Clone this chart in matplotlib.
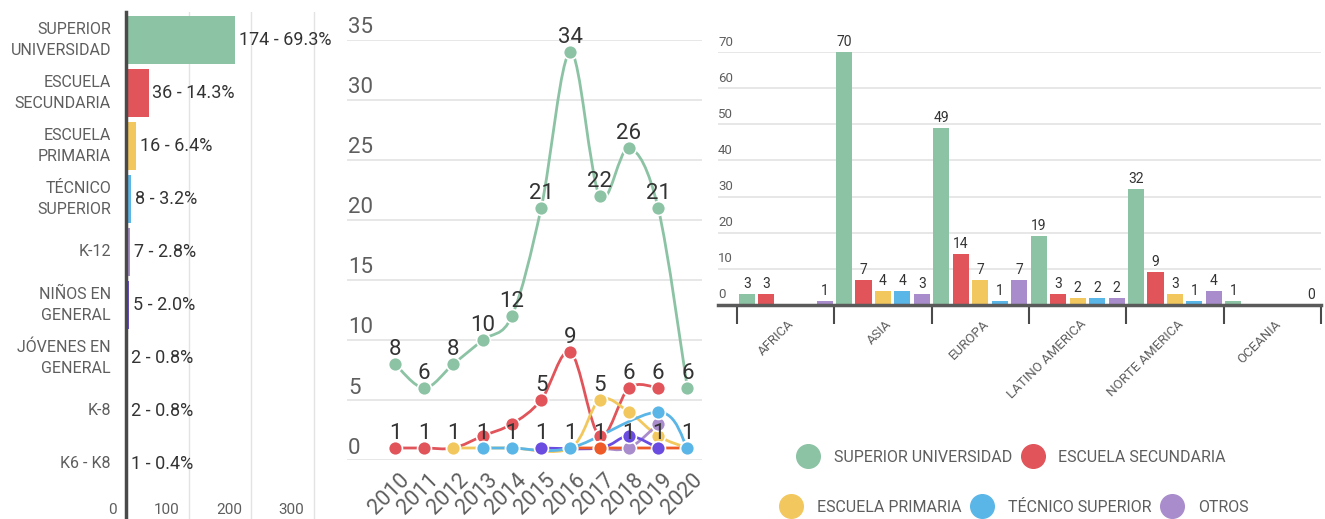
import matplotlib

matplotlib.use("Agg")
import matplotlib.pyplot as plt
import matplotlib.transforms as mtransforms
import numpy as np
from matplotlib.lines import Line2D
from matplotlib.patches import PathPatch
from matplotlib.path import Path

plt.rcParams["font.family"] = ["Roboto", "DejaVu Sans"]

# ---- left panel: publications by education level
LEVELS = ["SUPERIOR\nUNIVERSIDAD", "ESCUELA\nSECUNDARIA", "ESCUELA\nPRIMARIA",
          "TÉCNICO\nSUPERIOR", "K-12", "NIÑOS EN\nGENERAL", "JÓVENES EN\nGENERAL",
          "K-8", "K6 - K8"]
LEVEL_COUNTS = [174, 36, 16, 8, 7, 5, 2, 2, 1]
LEVEL_PCT = [69.3, 14.3, 6.4, 3.2, 2.8, 2.0, 0.8, 0.8, 0.4]
COUNT_TICKS = [0, 100, 200, 300]

# ---- middle panel: per year (None = no point that year)
YEARS = list(range(2010, 2021))
SUP_BY_YEAR = [8, 6, 8, 10, 12, 21, 34, 22, 26, 21, 6]
SEC_BY_YEAR = [1, 1, 1, 2, 3, 5, 9, 2, 6, 6, None]
PRI_BY_YEAR = [None, None, 1, 1, 1, None, 1, 5, 4, 2, 1]
K12_BY_YEAR = [None, None, None, None, None, None, None, 1, 1, 3, None]
NIN_BY_YEAR = [None, None, None, None, None, 1, None, 1, 2, 1, None]
JOV_BY_YEAR = [None, None, None, None, None, None, 1, 1, None, None, 1]
TEC_BY_YEAR = [None, None, None, 1, 1, None, 1, None, None, 4, 1]
# years whose value is printed above the dot
SUP_LABELED = YEARS
SEC_LABELED = [2010, 2011, 2012, 2015, 2016, 2018, 2019]
PRI_LABELED = [2017]
K12_LABELED = [2018]
NIN_LABELED = [2015, 2019]
JOV_LABELED = [2017]
TEC_LABELED = [2013, 2014, 2016, 2020]
YEAR_TICKS = [0, 5, 10, 15, 20, 25, 30, 35]

# ---- right panel: per region
REGIONS = ["AFRICA", "ASIA", "EUROPA", "LATINO AMERICA", "NORTE AMERICA", "OCEANIA"]
REG_SUP = [3, 70, 49, 19, 32, 1]
REG_SEC = [3, 7, 14, 3, 9, None]
REG_PRI = [None, 4, 7, 2, 3, None]
REG_TEC = [None, 4, 1, 2, 1, None]
REG_OTR = [1, 3, 7, 2, 4, 0]
REG_TICKS = [0, 10, 20, 30, 40, 50, 60, 70]
LEGEND_NAMES = ["SUPERIOR UNIVERSIDAD", "ESCUELA SECUNDARIA", "ESCUELA PRIMARIA",
                "TÉCNICO SUPERIOR", "OTROS"]

GREEN, RED, YELLOW, BLUE = "#8cc3a4", "#e0545a", "#f2c85e", "#5bb6e8"
LAVENDER, INDIGO, SALMON, ORANGE = "#a98ccb", "#6a4de0", "#e98b6e", "#ee5a28"
LEVEL_COLORS = [GREEN, RED, YELLOW, BLUE, LAVENDER, INDIGO, SALMON, SALMON, "#9a9a9a"]
GRID, TXT, SOFT = "#e3e3e3", "#333333", "#5e5e5e"

W, H = 1325, 519
fig = plt.figure(figsize=(W / 100, H / 100), dpi=100)


def px_axes(x0, y0, x1, y1):
    """Axes from a pixel box (top-left origin)."""
    return fig.add_axes([x0 / W, 1 - y1 / H, (x1 - x0) / W, (y1 - y0) / H])


def shift(dx, dy):
    return mtransforms.ScaledTranslation(dx / 100, dy / 100, fig.dpi_scale_trans)


def smooth_path(xs, ys):
    """Catmull-Rom style bezier through the data points (curved line look)."""
    pts = np.column_stack([xs, ys]).astype(float)
    n = len(pts)
    verts, codes = [pts[0]], [Path.MOVETO]
    for i in range(n - 1):
        p0, p1 = pts[max(i - 1, 0)], pts[i]
        p2, p3 = pts[i + 1], pts[min(i + 2, n - 1)]
        verts += [p1 + (p2 - p0) / 6, p2 - (p3 - p1) / 6, p2]
        codes += [Path.CURVE4] * 3
    return Path(verts, codes)


# ================= left: horizontal bars
ax = px_axes(126, 12, 342, 519)
ypos = np.arange(len(LEVELS))
ax.barh(ypos, LEVEL_COUNTS, height=0.9, color=LEVEL_COLORS, zorder=2)
ax.set_xlim(0, 216 / 0.625)
ax.set_ylim(9.04, -0.53)
ax.set_yticks([])
ax.set_xticks([])
for v in COUNT_TICKS[1:]:
    ax.axvline(v, color=GRID, lw=1, zorder=1)
for s in ["top", "right", "bottom"]:
    ax.spines[s].set_visible(False)
ax.spines["left"].set_color("#4a4a4a")
ax.spines["left"].set_linewidth(2.5)
ltrans = mtransforms.blended_transform_factory(ax.transAxes, ax.transData) + shift(-15, 0)
for y, name in zip(ypos, LEVELS):
    ax.text(0, y, name, transform=ltrans, ha="right", va="center",
            fontsize=11.5, color=SOFT, linespacing=1.45, clip_on=False)
for y, n, p in zip(ypos, LEVEL_COUNTS, LEVEL_PCT):
    ax.text(n, y, f"{n} - {p:.1f}%", transform=ax.transData + shift(4, 0), ha="left",
            va="center", fontsize=13, color=TXT, clip_on=False)
btrans = mtransforms.blended_transform_factory(ax.transData, ax.transAxes)
for v in COUNT_TICKS:
    ax.text(v, 9 / 507, str(v), transform=btrans + shift(-9, 0), ha="right", va="center",
            fontsize=11, color=SOFT)

# ================= middle: curved lines per year
ax2 = px_axes(347, 40, 702, 460)
ax2.set_xlim(2008.36, 2020.5)
ax2.set_ylim(0, 35)
for s in ax2.spines.values():
    s.set_visible(False)
ax2.set_yticks([])
ytrans = mtransforms.blended_transform_factory(ax2.transAxes, ax2.transData) + shift(0, 12)
for v in YEAR_TICKS:
    ax2.axhline(v, color=GRID, lw=1.2, zorder=0)
    ax2.text(0.003, v, str(v), transform=ytrans, ha="left", va="center", fontsize=16, color=SOFT)
ax2.set_xticks(YEARS)
ax2.set_xticklabels([str(y) for y in YEARS], rotation=45, ha="right", rotation_mode="anchor",
                    fontsize=15.5, color=SOFT)
ax2.tick_params(axis="x", length=0, pad=7)
for lab in ax2.get_xticklabels():
    lab.set_transform(lab.get_transform() + shift(4, 0))

line_series = [
    (SUP_BY_YEAR, SUP_LABELED, GREEN),
    (SEC_BY_YEAR, SEC_LABELED, RED),
    (PRI_BY_YEAR, PRI_LABELED, YELLOW),
    (K12_BY_YEAR, K12_LABELED, LAVENDER),
    (NIN_BY_YEAR, NIN_LABELED, INDIGO),
    (JOV_BY_YEAR, JOV_LABELED, ORANGE),
    (TEC_BY_YEAR, TEC_LABELED, BLUE),
]
# lines first, dots on top of every line
for i, (vals, _, col) in enumerate(line_series):
    xs = [y for y, v in zip(YEARS, vals) if v is not None]
    ys = [v for v in vals if v is not None]
    ax2.add_patch(PathPatch(smooth_path(xs, ys), fc="none", ec=col, lw=2, zorder=2 + i * 0.1,
                            capstyle="round"))
for i, (vals, labeled, col) in enumerate(line_series):
    xs = [y for y, v in zip(YEARS, vals) if v is not None]
    ys = [v for v in vals if v is not None]
    ax2.plot(xs, ys, "o", ms=10, mfc=col, mec="white", mew=1.2, zorder=5 + i * 0.1, clip_on=False)
    for x, v in zip(xs, ys):
        if x in labeled:
            ax2.annotate(str(v), (x, v), xytext=(0, 10.5), textcoords="offset points",
                         ha="center", va="center", fontsize=16, color=TXT, zorder=10)

# ================= right: grouped bars per region
ax3 = px_axes(718, 52, 1321, 305)
groups = [REG_SUP, REG_SEC, REG_PRI, REG_TEC, REG_OTR]
gcolors = [GREEN, RED, YELLOW, BLUE, LAVENDER]
xc = np.arange(len(REGIONS))
for k, (vals, col) in enumerate(zip(groups, gcolors)):
    for x, v in zip(xc, vals):
        if v is None:
            continue
        xb = x + (k - 2) * 0.2
        ax3.bar(xb, v, width=0.165, color=col, zorder=2)
        ax3.text(xb, v, str(v), transform=ax3.transData + shift(0, 3), ha="center", va="bottom",
                 fontsize=10, color=TXT)
ax3.set_xlim(-0.695, 5.5)
ax3.set_ylim(0, 70)
for s in ["top", "right", "left"]:
    ax3.spines[s].set_visible(False)
ax3.spines["bottom"].set_color("#5a5a5a")
ax3.spines["bottom"].set_linewidth(2.5)
ax3.set_yticks([])
rtrans = mtransforms.blended_transform_factory(ax3.transAxes, ax3.transData) + shift(0, 10)
for v in REG_TICKS:
    if v:
        ax3.axhline(v, color=GRID, lw=1.2, zorder=0)
    ax3.text(0.0, v, str(v), transform=rtrans, ha="left", va="center", fontsize=9.5, color=SOFT)
ax3.set_xticks(xc)
ax3.set_xticklabels(REGIONS, rotation=45, ha="right", rotation_mode="anchor", fontsize=9.5,
                    color=SOFT)
ax3.tick_params(axis="x", which="major", length=0, pad=9)
for lab in ax3.get_xticklabels():
    lab.set_transform(lab.get_transform() + shift(2, 0))
ax3.set_xticks(np.arange(len(REGIONS) + 1) - 0.5, minor=True)
ax3.tick_params(axis="x", which="minor", length=14, width=1.5, color="#4a4a4a")

handles = [Line2D([], [], ls="", marker="o", ms=17, mfc=c, mec=c) for c in gcolors]
fig.legend(handles[:2], LEGEND_NAMES[:2], loc="center", bbox_to_anchor=(0.764, 1 - 457 / H),
           ncol=2, frameon=False, fontsize=11.5, handletextpad=1.0, columnspacing=0.7,
           labelcolor=SOFT, handlelength=1.2)
fig.legend(handles[2:], LEGEND_NAMES[2:], loc="center", bbox_to_anchor=(0.766, 1 - 507 / H),
           ncol=3, frameon=False, fontsize=11.5, handletextpad=1.0, columnspacing=0.7,
           labelcolor=SOFT, handlelength=1.2)

fig.savefig("out.png", dpi=100)
